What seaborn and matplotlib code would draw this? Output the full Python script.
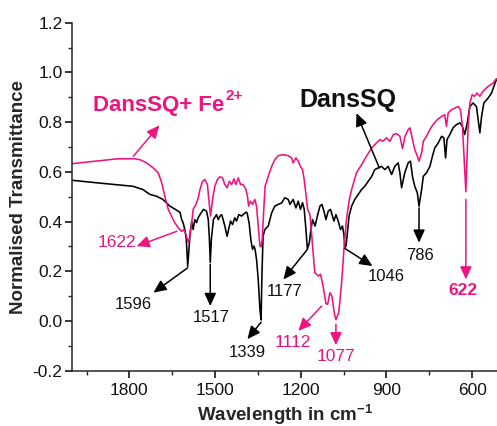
import numpy as np
import pandas as pd
import matplotlib
matplotlib.use("Agg")
import matplotlib.pyplot as plt
from matplotlib.ticker import AutoMinorLocator, MultipleLocator
import seaborn as sns

# FTIR spectra: wavenumber (cm-1) and normalised transmittance
dans_wn = [2000, 1915, 1850, 1788, 1753, 1728, 1705, 1683, 1658, 1635, 1623, 1617, 1612, 1606,
           1601, 1596, 1591, 1587, 1582, 1577, 1571, 1565, 1559, 1553, 1541, 1530, 1524, 1520,
           1517, 1513, 1506, 1495, 1489, 1483, 1477, 1472, 1466, 1458, 1450, 1446, 1439, 1431,
           1425, 1417, 1407, 1402, 1392, 1388, 1381, 1375, 1369, 1364, 1360, 1355, 1349, 1343,
           1339, 1336, 1332, 1326, 1314, 1302, 1291, 1279, 1267, 1256, 1244, 1238, 1227, 1217,
           1209, 1201, 1194, 1188, 1182, 1177, 1170, 1166, 1159, 1150, 1142, 1133, 1126, 1119,
           1112, 1104, 1096, 1089, 1084, 1077, 1069, 1061, 1054, 1049, 1046, 1042, 1038, 1031,
           1022, 1011, 999, 987, 976, 964, 952, 941, 929, 917, 906, 894, 882, 871, 859, 853,
           847, 836, 824, 816, 809, 801, 792, 786, 777, 771, 760, 748, 739, 731, 719, 707, 699,
           693, 688, 678, 667, 655, 643, 634, 626, 617, 608, 597, 585, 579, 573, 567, 559, 544,
           532, 524, 515]
dans_t = [0.566, 0.556, 0.549, 0.542, 0.529, 0.509, 0.502, 0.489, 0.462, 0.446, 0.437, 0.408, 0.395, 0.368,
          0.330, 0.220, 0.300, 0.360, 0.400, 0.368, 0.408, 0.396, 0.416, 0.428, 0.449, 0.442, 0.408, 0.330,
          0.236, 0.330, 0.408, 0.428, 0.408, 0.422, 0.428, 0.408, 0.382, 0.341, 0.382, 0.402, 0.388, 0.415,
          0.402, 0.428, 0.422, 0.428, 0.438, 0.435, 0.395, 0.328, 0.288, 0.301, 0.288, 0.248, 0.167, 0.047,
          0.004, 0.190, 0.341, 0.368, 0.382, 0.435, 0.462, 0.469, 0.475, 0.496, 0.489, 0.469, 0.489, 0.455,
          0.482, 0.449, 0.476, 0.449, 0.368, 0.290, 0.315, 0.355, 0.408, 0.382, 0.422, 0.462, 0.469, 0.442,
          0.408, 0.442, 0.449, 0.422, 0.402, 0.428, 0.402, 0.368, 0.382, 0.348, 0.295, 0.300, 0.341, 0.422,
          0.462, 0.489, 0.509, 0.529, 0.542, 0.562, 0.581, 0.609, 0.616, 0.622, 0.609, 0.622, 0.589, 0.622, 0.636, 0.596,
          0.536, 0.596, 0.636, 0.643, 0.582, 0.542, 0.516, 0.462, 0.529, 0.582, 0.596, 0.622, 0.663, 0.696, 0.716, 0.743, 0.737,
          0.656, 0.730, 0.750, 0.777, 0.790, 0.797, 0.783, 0.750, 0.797, 0.863, 0.877, 0.863, 0.810, 0.757, 0.823, 0.877, 0.897,
          0.917, 0.944, 0.971]

fe_wn = [2000, 1903, 1845, 1786, 1763, 1740, 1717, 1699, 1687, 1676, 1664, 1652, 1641, 1629,
         1617, 1609, 1602, 1594, 1588, 1582, 1577, 1567, 1559, 1553, 1544, 1536, 1527, 1522,
         1516, 1509, 1501, 1492, 1483, 1474, 1466, 1458, 1450, 1442, 1434, 1427, 1419, 1411,
         1402, 1392, 1386, 1383, 1376, 1369, 1361, 1355, 1349, 1343, 1339, 1335, 1332, 1329,
         1325, 1314, 1302, 1291, 1279, 1262, 1244, 1232, 1227, 1217, 1209, 1201, 1194, 1188,
         1182, 1176, 1168, 1162, 1157, 1151, 1139, 1131, 1122, 1112, 1106, 1098, 1091, 1083,
         1077, 1067, 1057, 1049, 1040, 1030, 1022, 1005, 987, 970, 952, 935, 923, 912, 900,
         888, 876, 865, 853, 844, 835, 824, 818, 809, 801, 792, 786, 777, 771, 760, 748, 737,
         722, 707, 696, 690, 684, 672, 660, 649, 641, 634, 629, 622, 618, 614, 608, 600, 591,
         583, 573, 562, 544, 527, 515]
fe_t = [0.633, 0.645, 0.652, 0.653, 0.649, 0.636, 0.616, 0.596, 0.556, 0.502, 0.449, 0.420, 0.395, 0.375,
        0.361, 0.368, 0.348, 0.315, 0.341, 0.395, 0.449, 0.469, 0.496, 0.529, 0.562, 0.569, 0.549, 0.489,
        0.422, 0.489, 0.542, 0.569, 0.580, 0.576, 0.549, 0.536, 0.562, 0.549, 0.572, 0.549, 0.576, 0.549,
        0.549, 0.529, 0.496, 0.462, 0.482, 0.469, 0.489, 0.462, 0.382, 0.301, 0.298, 0.330, 0.400, 0.462,
        0.542, 0.582, 0.622, 0.649, 0.665, 0.669, 0.665, 0.656, 0.636, 0.656, 0.643, 0.622, 0.609, 0.569,
        0.509, 0.449, 0.428, 0.348, 0.276, 0.194, 0.181, 0.188, 0.141, 0.070, 0.067, 0.114, 0.100, 0.034,
        0.005, 0.034, 0.154, 0.288, 0.409, 0.489, 0.529, 0.596, 0.629, 0.663, 0.696, 0.716, 0.730, 0.723, 0.737,
        0.723, 0.750, 0.754, 0.743, 0.694, 0.743, 0.770, 0.777, 0.730, 0.690, 0.663, 0.643, 0.676, 0.723, 0.743, 0.770, 0.790,
        0.810, 0.823, 0.830, 0.783, 0.837, 0.850, 0.857, 0.863, 0.850, 0.783, 0.676, 0.520, 0.649, 0.783, 0.877, 0.910, 0.904,
        0.917, 0.904, 0.924, 0.944, 0.957, 0.975]

# Band assignments: (label, arrow start, arrow end, label position)
dans_peaks = ["1596", "1517", "1339", "1177", "1046", "786"]
dans_arrow_from = [(1596, 0.214), (1517, 0.228), (1339, -0.005), (1177, 0.288), (1046, 0.292), (786, 0.455)]
dans_arrow_to = [(1716, 0.114), (1517, 0.060), (1387, -0.073), (1261, 0.167), (949, 0.221), (786, 0.315)]
dans_label_at = [(1786, 0.067), (1513, 0.015), (1388, -0.126), (1255, 0.120), (900, 0.180), (783, 0.264)]

fe_peaks = ["1622", "1112", "1077", "622"]
fe_arrow_from = [(1634, 0.361), (1127, 0.060), (1077, -0.013), (622, 0.489)]
fe_arrow_to = [(1775, 0.301), (1209, -0.040), (1077, -0.098), (622, 0.167)]
fe_label_at = [(1845, 0.315), (1227, -0.087), (1077, -0.142), (634, 0.123)]

PINK = "#EE1480"
BLACK = "#000000"

sns.set_style("ticks")
plt.rcParams["font.family"] = ["Liberation Sans", "DejaVu Sans"]
plt.rcParams["mathtext.fontset"] = "custom"
plt.rcParams["mathtext.rm"] = "Liberation Sans"
plt.rcParams["mathtext.bf"] = "Liberation Sans:bold"
plt.rcParams["axes.unicode_minus"] = False

spectra = pd.concat([
    pd.DataFrame({"wn": dans_wn, "T": dans_t, "sample": "DansSQ"}),
    pd.DataFrame({"wn": fe_wn, "T": fe_t, "sample": "DansSQ+Fe"}),
])

fig = plt.figure(figsize=(4.97, 4.26), dpi=100)
ax = fig.add_axes([0.1455, 0.1298, 0.8545, 0.8169])

sns.lineplot(data=spectra, x="wn", y="T", hue="sample", estimator=None, sort=False,
             palette={"DansSQ": BLACK, "DansSQ+Fe": PINK}, linewidth=1.15,
             legend=False, ax=ax)

ax.set_xlim(2000, 513)
ax.set_ylim(-0.2, 1.2)
ax.xaxis.set_major_locator(MultipleLocator(300))
ax.xaxis.set_minor_locator(AutoMinorLocator(2))
ax.yaxis.set_major_locator(MultipleLocator(0.2))
ax.yaxis.set_minor_locator(AutoMinorLocator(2))
ax.yaxis.set_major_formatter(matplotlib.ticker.FormatStrFormatter("%.1f"))
ax.set_xticks([1800, 1500, 1200, 900, 600])

for side in ("top", "right"):
    ax.spines[side].set_visible(False)
for side in ("left", "bottom"):
    ax.spines[side].set_linewidth(1.1)

ax.tick_params(axis="both", which="major", direction="out", length=5, width=1.1,
               labelsize=12.5, color="black", labelcolor="#111111")
ax.tick_params(axis="both", which="minor", direction="out", length=3, width=1.0)
ax.tick_params(axis="y", pad=2)
ax.tick_params(axis="x", pad=4)

ax.set_xlabel("Wavelength in cm$^{\\mathbf{-1}}$", fontsize=13.5, fontweight="bold", labelpad=3)
ax.set_ylabel("Normalised Transmittance", fontsize=13.5, fontweight="bold", labelpad=4)

arrow_kw = dict(arrowstyle="-|>,head_length=0.55,head_width=0.25", lw=1.1,
                mutation_scale=14, shrinkA=0, shrinkB=0)

for lab, a, b, p in zip(dans_peaks, dans_arrow_from, dans_arrow_to, dans_label_at):
    ax.annotate("", xy=b, xytext=a, arrowprops=dict(color=BLACK, **arrow_kw))
    ax.text(p[0], p[1], lab, ha="center", va="center", fontsize=12, color="#111111")

for lab, a, b, p in zip(fe_peaks, fe_arrow_from, fe_arrow_to, fe_label_at):
    ax.annotate("", xy=b, xytext=a, arrowprops=dict(color=PINK, **arrow_kw))
    ax.text(p[0], p[1], lab, ha="center", va="center", fontsize=12.5, color=PINK,
            fontweight="bold" if lab == "622" else "normal")

# Sample name tags with pointers to their traces
ax.annotate("", xy=(1695, 0.787), xytext=(1786, 0.663), arrowprops=dict(color=PINK, **arrow_kw))
fe_tag = ax.text(1927, 0.843, "DansSQ+ Fe", ha="left", va="baseline",
                 fontsize=16, fontweight="bold", color=PINK)
ax.annotate("2+", xy=(1.0, 0.62), xycoords=fe_tag, xytext=(1, 0), textcoords="offset points",
            ha="left", va="bottom", fontsize=11, fontweight="bold", color=PINK)
ax.annotate("", xy=(1005, 0.836), xytext=(925, 0.616), arrowprops=dict(color=BLACK, **arrow_kw))
ax.text(1205, 0.861, "DansSQ", ha="left", va="baseline",
        fontsize=18, fontweight="bold", color="#111111")

fig.savefig("out.png", dpi=100)
